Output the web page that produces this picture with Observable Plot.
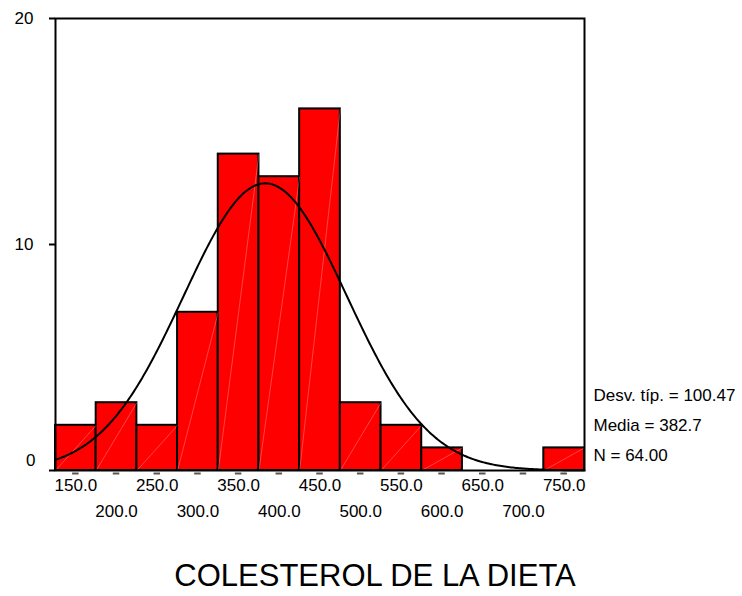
<!DOCTYPE html>
<html>
<head>
<meta charset="utf-8">
<script src="https://cdn.jsdelivr.net/npm/d3@7"></script>
<script src="https://cdn.jsdelivr.net/npm/@observablehq/plot@0.6"></script>
<style>
  body { margin: 0; background: #fff; }
  svg { font-family: "Liberation Sans", Arial, sans-serif; }
</style>
</head>
<body>
<div id="chart"></div>
<script>
// Data
const binCenters = [150, 200, 250, 300, 350, 400, 450, 500, 550, 600, 650, 700, 750];
const binCounts  = [2, 3, 2, 7, 14, 13, 16, 3, 2, 1, 0, 0, 1];
const binWidth = 50;
const xTicksRow1 = [150, 250, 350, 450, 550, 650, 750];
const xTicksRow2 = [200, 300, 400, 500, 600, 700];
const yTicks = [0, 10, 20];
const statLines = ["Desv. típ. = 100.47", "Media = 382.7", "N = 64.00"];
const statSd = 100.47, statMean = 382.7, statN = 64;
const title = "COLESTEROL DE LA DIETA";

const bins = binCenters.map((c, i) => ({lo: c - binWidth / 2, hi: c + binWidth / 2, mid: c, count: binCounts[i]}));
const filled = bins.filter(d => d.count > 0);
const xMin = binCenters[0] - binWidth / 2, xMax = binCenters[binCenters.length - 1] + binWidth / 2;

// Fitted normal curve from the stated statistics
const curve = d3.range(xMin, xMax + 0.1, 2).map(x => ({
  x,
  y: statN * binWidth / (statSd * Math.sqrt(2 * Math.PI)) * Math.exp(-0.5 * ((x - statMean) / statSd) ** 2)
}));

const fs = 17;
const chart = Plot.plot({
  width: 742,
  height: 596,
  marginLeft: 55,
  marginRight: 158,
  marginTop: 18,
  marginBottom: 126,
  style: {fontFamily: '"Liberation Sans", Arial, sans-serif', fontSize: fs + "px", color: "black", background: "white"},
  x: {domain: [xMin, xMax], axis: null},
  y: {domain: [0, 20], axis: null},
  marks: [
    Plot.rectY(filled, {x1: "lo", x2: "hi", y: "count", fill: "#ff0000", stroke: "black", strokeWidth: 2, insetLeft: 0, insetRight: 0}),
    Plot.link(filled, {x1: "lo", y1: () => 0, x2: "hi", y2: "count", stroke: "white", strokeOpacity: 0.45, strokeWidth: 0.6}),
    Plot.line(curve, {x: "x", y: "y", stroke: "black", strokeWidth: 2}),
    Plot.frame({stroke: "black", strokeWidth: 2}),
    Plot.ruleY(bins, {y: () => 0, x1: d => d.mid - 4, x2: d => d.mid + 4, dy: 3, stroke: "#555", strokeWidth: 2}),
    Plot.axisY({ticks: yTicks, tickSize: 6, tickFormat: () => "", strokeWidth: 2, label: null}),
    Plot.text(yTicks.filter(d => d !== 0), {y: d => d, text: d => String(d), frameAnchor: "left", textAnchor: "end", dx: -22, fontSize: fs, fill: "black"}),
    Plot.text(yTicks.filter(d => d === 0), {y: d => d, text: d => String(d), frameAnchor: "left", textAnchor: "end", dx: -20, dy: -10, fontSize: fs, fill: "black"}),
    Plot.text(xTicksRow1, {x: d => d, text: d => d.toFixed(1), frameAnchor: "bottom", dy: 20, fontSize: fs, fill: "black"}),
    Plot.text(xTicksRow2, {x: d => d, text: d => d.toFixed(1), frameAnchor: "bottom", dy: 46, fontSize: fs, fill: "black"}),
    Plot.text([statLines.join("\n")], {frameAnchor: "bottom-right", textAnchor: "start", lineAnchor: "middle", lineHeight: 30 / fs, dx: 9, dy: -49, fontSize: fs, fill: "black"}),
    Plot.text([title], {frameAnchor: "bottom", dx: 55, dy: 115, fontSize: 31, fill: "black"})
  ]
});
document.getElementById("chart").appendChild(chart);
</script>
</body>
</html>
